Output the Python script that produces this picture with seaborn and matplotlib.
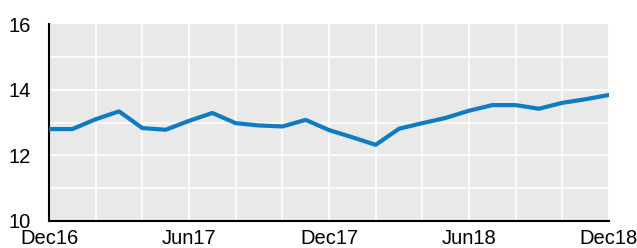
import numpy as np
import pandas as pd
import matplotlib
matplotlib.use("Agg")
import matplotlib.pyplot as plt
import seaborn as sns

# Monthly values, Dec16 .. Dec18
months = pd.date_range("2016-12-01", "2018-12-01", freq="MS")
values = [12.80, 12.80, 13.10, 13.34, 12.83, 12.78, 13.05, 13.29, 12.98, 12.91,
          12.88, 13.08, 12.77, 12.55, 12.32, 12.81, 12.98, 13.14, 13.36, 13.53,
          13.53, 13.42, 13.60, 13.71, 13.84]
x_labels = ["Dec16", "Jun17", "Dec17", "Jun18", "Dec18"]
y_ticks = [10, 11, 12, 13, 14, 15, 16]

df = pd.DataFrame({"idx": np.arange(len(months)), "value": values})

sns.set_theme(style="white")
plt.rcParams["font.family"] = ["Liberation Sans", "DejaVu Sans"]

fig = plt.figure(figsize=(6.37, 2.48), dpi=100)
ax = fig.add_axes([0.077, 0.109, 0.879, 0.794])
ax.set_facecolor("#e9e9e9")

sns.lineplot(data=df, x="idx", y="value", color="#0f7bc4", linewidth=3.0, ax=ax, zorder=3)

n = len(months)
ax.set_xlim(0, n - 1)
ax.set_ylim(10, 16)

# vertical grid every 2 months, horizontal every unit
for xv in range(2, n, 2):
    ax.axvline(xv, color="white", linewidth=1.2, zorder=1)
for yv in y_ticks[1:-1]:
    ax.axhline(yv, color="white", linewidth=1.2, zorder=1)

ax.set_xticks(range(0, n, 2))
ax.set_xticklabels([x_labels[i // 6] if i % 6 == 0 else "" for i in range(0, n, 2)])
ax.set_yticks(y_ticks)
ax.set_yticklabels([str(v) if v % 2 == 0 else "" for v in y_ticks])
ax.tick_params(axis="both", direction="in", length=4, width=1.2, color="black",
               labelsize=14.5, colors="black")
ax.tick_params(axis="y", length=5, pad=13)
ax.tick_params(axis="x", pad=6)

for s in ["top", "right"]:
    ax.spines[s].set_visible(False)
for s in ["left", "bottom"]:
    ax.spines[s].set_color("black")
    ax.spines[s].set_linewidth(1.5)

ax.set_xlabel("")
ax.set_ylabel("")

fig.savefig("out.png", dpi=100)
